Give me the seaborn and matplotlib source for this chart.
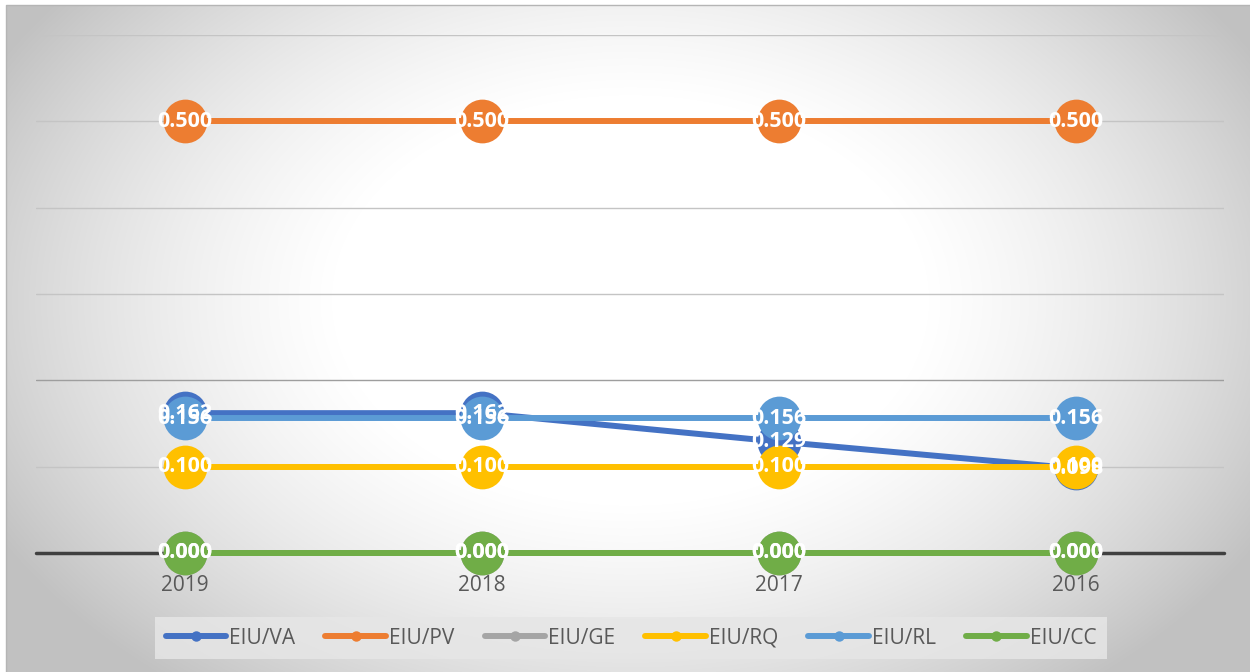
import numpy as np
import pandas as pd
import matplotlib
matplotlib.use("Agg")
import matplotlib.pyplot as plt
from matplotlib.lines import Line2D
from matplotlib.patches import Rectangle
import seaborn as sns

# ---- data -------------------------------------------------------------
years = ["2019", "2018", "2017", "2016"]
series_names = ["EIU/VA", "EIU/PV", "EIU/GE", "EIU/RQ", "EIU/RL", "EIU/CC"]
va = [0.162, 0.162, 0.129, 0.098]
pv = [0.500, 0.500, 0.500, 0.500]
ge = [0.000, 0.000, 0.000, 0.000]
rq = [0.100, 0.100, 0.100, 0.100]
rl = [0.156, 0.156, 0.156, 0.156]
cc = [0.000, 0.000, 0.000, 0.000]
series_values = [va, pv, ge, rq, rl, cc]
colors = ["#4472C4", "#ED7D31", "#A5A5A5", "#FFC000", "#5B9BD5", "#70AD47"]
y_ticks = [0.0, 0.1, 0.2, 0.3, 0.4, 0.5, 0.6]

sns.set_theme(style="white")
plt.rcParams["font.family"] = ["Open Sans", "DejaVu Sans"]

W, H = 1250, 672
fig = plt.figure(figsize=(W / 100, H / 100), dpi=100)
fig.patch.set_facecolor("white")

# radial gradient backdrop of the chart area
bg = fig.add_axes([0, 0, 1, 1], zorder=-10)
yy, xx = np.mgrid[0:H, 0:W]
r2 = ((xx - 630) / 640.0) ** 2 + ((yy - 300) / 440.0) ** 2
shade = np.clip(1.05 - 0.23 * r2, 0.76, 1)
img = np.dstack([shade, shade, shade])
bg.imshow(img, extent=[0, W, H, 0], aspect="auto", interpolation="bilinear")
bg.add_patch(Rectangle((0, 0), 6, H, color="white", lw=0))
bg.add_patch(Rectangle((0, 0), W, 5, color="white", lw=0))
bg.plot([6, 6, W], [H, 5, 5], color="#b5b5b5", lw=1)
bg.set_xlim(0, W)
bg.set_ylim(H, 0)
bg.axis("off")

# main plotting area
ax = fig.add_axes([36 / W, 1 - 553 / H, (1224 - 36) / W, (553 - 35) / H])
ax.patch.set_alpha(0)
xpos = np.arange(len(years))

df = pd.DataFrame({"x": np.tile(xpos, len(series_names)),
                   "value": np.concatenate(series_values),
                   "series": np.repeat(series_names, len(years))})

for i, name in enumerate(series_names):
    sub = df[df["series"] == name]
    sns.lineplot(data=sub, x="x", y="value", color=colors[i], marker="o",
                 markersize=31.5, markeredgewidth=0, linewidth=4.3,
                 sort=False, ax=ax, zorder=3 + i, legend=False)
for ln in ax.get_lines():
    ln.set_clip_on(False)

# value labels on top of the markers
for i, name in enumerate(series_names):
    for xv, val in zip(xpos, series_values[i]):
        ax.text(xv, val, f"{val:.3f}", ha="center", va="center",
                color="white", fontsize=15.5, fontweight="bold", zorder=20)

ax.set_xlim(-0.5, len(years) - 0.5)
ax.set_ylim(0, 0.6)
ax.set_yticks(y_ticks)
ax.set_yticklabels([])
ax.yaxis.grid(True, color="#c4c4c4", linewidth=1)
for val, gl in zip(y_ticks, ax.yaxis.get_gridlines()):
    if abs(val - 0.2) < 1e-9:
        gl.set_color("#9e9e9e")
ax.set_axisbelow(True)
ax.axhline(0, color="#404040", linewidth=2.5, zorder=2, clip_on=False)
ax.set_xticks(xpos)
ax.set_xticklabels(years, fontsize=15, color="#595959")
ax.tick_params(axis="x", length=0, pad=16)
ax.tick_params(axis="y", length=0)
ax.set_xlabel("")
ax.set_ylabel("")
for s in ax.spines.values():
    s.set_visible(False)

handles = [Line2D([0], [0], color=c, lw=4.3, marker="o", markersize=7.5,
                  markeredgewidth=0) for c in colors]
leg = fig.legend(handles, series_names, loc="center", ncol=6,
                 bbox_to_anchor=(631 / W, 1 - 638 / H), frameon=True,
                 fontsize=15, handlelength=2.9, handletextpad=0.15,
                 columnspacing=1.45, borderpad=0.5, fancybox=False)
leg.get_frame().set_facecolor("#e6e6e6")
leg.get_frame().set_edgecolor("none")
leg.get_frame().set_alpha(0.85)
for t in leg.get_texts():
    t.set_color("#595959")

fig.savefig("out.png", dpi=100)
